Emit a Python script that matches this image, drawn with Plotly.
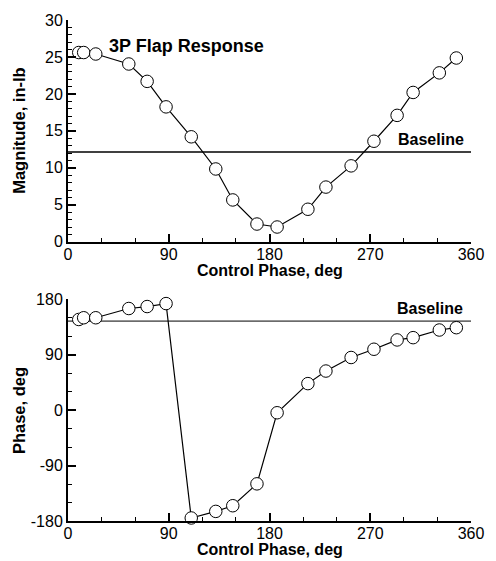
import plotly.graph_objects as go

# ---- data ----
control_phase = [9.6, 14.0, 24.8, 54.3, 70.7, 87.6, 110.1, 132.0, 147.2, 168.8,
                 186.8, 214.3, 230.4, 252.9, 273.3, 294.0, 308.3, 331.7, 346.9]
magnitude = [25.6, 25.6, 25.4, 24.05, 21.7, 18.25, 14.2, 9.85, 5.66, 2.4,
             2.0, 4.4, 7.4, 10.27, 13.6, 17.1, 20.2, 22.85, 24.86]
phase = [147.1, 149.9, 149.9, 164.9, 168.1, 172.9, -175.1, -164.4, -155.2, -119.7,
         -4.3, 43.0, 63.4, 85.4, 98.8, 113.9, 117.6, 130.0, 133.8]
baseline_magnitude = 12.14
baseline_phase = 144.5
x_range = [0, 360]
x_ticks = [0, 90, 180, 270, 360]
x_tick_labels = ["0", "90", "180", "270", "360"]
mag_ticks = [0, 5, 10, 15, 20, 25, 30]
mag_tick_labels = ["0", "5", "10", "15", "20", "25", "30"]
phase_ticks = [-180, -90, 0, 90, 180]
phase_tick_labels = ["-180", "-90", "0", "90", "180"]

FONT = "Liberation Sans, Arial, sans-serif"
fig = go.Figure()

marker = dict(symbol="circle", size=12.5, color="white",
              line=dict(color="black", width=1))

# baselines
fig.add_trace(go.Scatter(x=x_range, y=[baseline_magnitude] * 2, mode="lines",
                         line=dict(color="black", width=1.5),
                         xaxis="x", yaxis="y", showlegend=False, hoverinfo="skip"))
fig.add_trace(go.Scatter(x=x_range, y=[baseline_phase] * 2, mode="lines",
                         line=dict(color="black", width=1),
                         xaxis="x2", yaxis="y2", showlegend=False, hoverinfo="skip"))
# data
fig.add_trace(go.Scatter(x=control_phase, y=magnitude, mode="lines+markers",
                         line=dict(color="black", width=1.2), marker=marker,
                         cliponaxis=False, xaxis="x", yaxis="y", showlegend=False))
fig.add_trace(go.Scatter(x=control_phase, y=phase, mode="lines+markers",
                         line=dict(color="black", width=1.2), marker=marker,
                         cliponaxis=False, xaxis="x2", yaxis="y2", showlegend=False))

H_TOT = 506.0
top_lo = (521 - 239) / H_TOT
bot_hi = (521 - 297) / H_TOT

axis_common = dict(showline=True, linecolor="black", linewidth=2,
                   ticks="inside", ticklen=8, tickwidth=1.5, tickcolor="black",
                   showgrid=False, zeroline=False, mirror=False,
                   tickfont=dict(family=FONT, size=16, color="black"))

fig.update_layout(
    width=496, height=561,
    margin=dict(l=68, r=17, t=15, b=40),
    paper_bgcolor="white", plot_bgcolor="white",
    xaxis=dict(domain=[0, 1], anchor="y", range=x_range, tickvals=x_ticks,
               ticktext=x_tick_labels, ticklabelstandoff=-3,
               minor=dict(dtick=30, ticks="inside", ticklen=4, tickwidth=1, tickcolor="black"),
               **axis_common),
    yaxis=dict(domain=[top_lo, 1], anchor="x", range=[0, 30], tickvals=mag_ticks,
               ticktext=mag_tick_labels,
               minor=dict(dtick=1, ticks="inside", ticklen=4, tickwidth=1, tickcolor="black"),
               **axis_common),
    xaxis2=dict(domain=[0, 1], anchor="y2", range=x_range, tickvals=x_ticks,
                ticktext=x_tick_labels, ticklabelstandoff=-3,
                minor=dict(dtick=30, ticks="inside", ticklen=4, tickwidth=1, tickcolor="black"),
                **axis_common),
    yaxis2=dict(domain=[0, bot_hi], anchor="x2", range=[-180, 180], tickvals=phase_ticks,
                ticktext=phase_tick_labels,
                minor=dict(dtick=30, ticks="inside", ticklen=4, tickwidth=1, tickcolor="black"),
                **axis_common),
)

bold = dict(family=FONT, size=16, color="black")
ann = [
    # axis titles
    dict(text="<b>Control Phase, deg</b>", xref="paper", yref="paper",
         x=0.5, y=(521 - 268) / H_TOT, xanchor="center", yanchor="middle",
         showarrow=False, font=bold),
    dict(text="<b>Control Phase, deg</b>", xref="paper", yref="paper",
         x=0.5, y=(521 - 550) / H_TOT, xanchor="center", yanchor="middle",
         showarrow=False, font=bold),
    dict(text="<b>Magnitude, in-lb</b>", xref="paper", yref="paper",
         x=(18 - 68) / 411, y=(521 - 127) / H_TOT, xanchor="center", yanchor="middle",
         textangle=-90, showarrow=False, font=dict(family=FONT, size=16.5, color="black")),
    dict(text="<b>Phase, deg</b>", xref="paper", yref="paper",
         x=(18 - 68) / 411, y=(521 - 409) / H_TOT, xanchor="center", yanchor="middle",
         textangle=-90, showarrow=False, font=dict(family=FONT, size=16.5, color="black")),
    # in-plot labels
    dict(text="<b>3P Flap Response</b>", xref="x", yref="y", x=35, y=26.5,
         xanchor="left", yanchor="middle", showarrow=False,
         font=dict(family=FONT, size=18, color="black")),
    dict(text="<b>Baseline</b>", xref="x", yref="y", x=355.5, y=13.85,
         xanchor="right", yanchor="middle", showarrow=False,
         font=dict(family=FONT, size=16, color="black")),
    dict(text="<b>Baseline</b>", xref="x2", yref="y2", x=355, y=164.5,
         xanchor="right", yanchor="middle", showarrow=False,
         font=dict(family=FONT, size=16, color="black")),
]
fig.update_layout(annotations=ann)

fig.write_html("out.html")
